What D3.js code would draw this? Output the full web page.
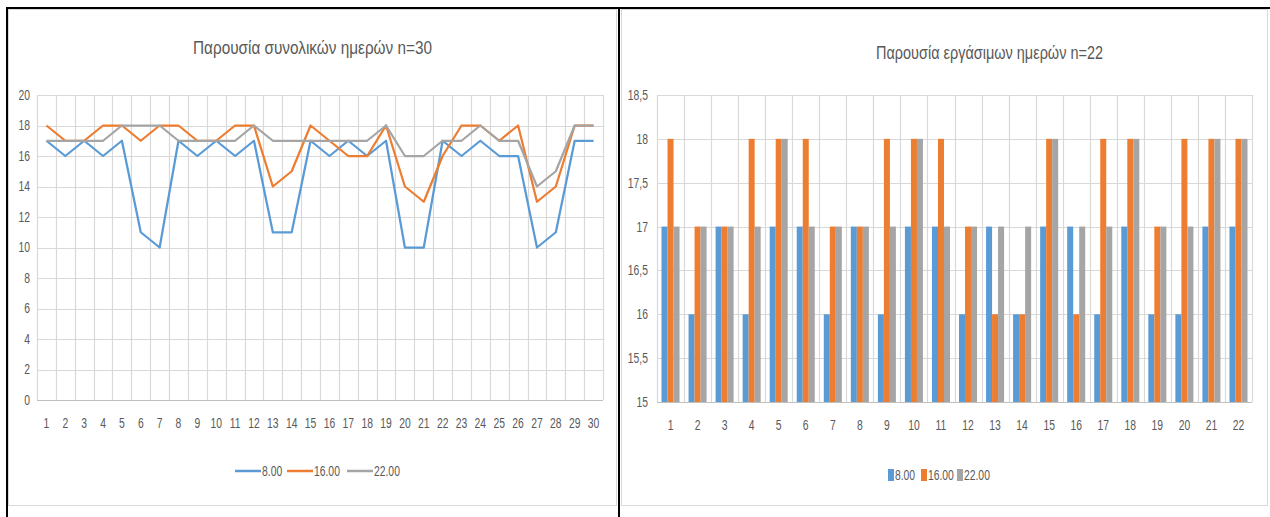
<!DOCTYPE html>
<html><head><meta charset="utf-8">
<script src="https://cdn.jsdelivr.net/npm/d3@7"></script>
<style>
html,body{margin:0;padding:0;background:#fff;}
svg{display:block;}
text{font-family:"Liberation Sans",Arial,sans-serif;}
</style></head><body>
<svg id="c" width="1270" height="517"></svg>
<script>
// ---- data ----
const seriesNames = ["8.00", "16.00", "22.00"];
const colors = ["#5B9BD5", "#ED7D31", "#A5A5A5"];

const leftTitle = "Παρουσία συνολικών ημερών n=30";
const leftDays = d3.range(1, 31).map(String);
const left800  = [17,16,17,16,17,11,10,17,16,17,16,17,11,11,17,16,17,16,17,10,10,17,16,17,16,16,10,11,17,17];
const left1600 = [18,17,17,18,18,17,18,18,17,17,18,18,14,15,18,17,16,16,18,14,13,16,18,18,17,18,13,14,18,18];
const left2200 = [17,17,17,17,18,18,18,17,17,17,17,18,17,17,17,17,17,17,18,16,16,17,17,18,17,17,14,15,18,18];
const leftTicks = [0,2,4,6,8,10,12,14,16,18,20];

const rightTitle = "Παρουσία εργάσιμων ημερών n=22";
const rightDays = d3.range(1, 23).map(String);
const right800  = [17,16,17,16,17,17,16,17,16,17,17,16,17,16,17,17,16,17,16,16,17,17];
const right1600 = [18,17,17,18,18,18,17,17,18,18,18,17,16,16,18,16,18,18,17,18,18,18];
const right2200 = [17,17,17,17,18,17,17,17,17,18,17,17,17,17,18,17,17,18,17,17,18,18];
const rightTicks = [15,15.5,16,16.5,17,17.5,18,18.5];

const svg = d3.select("#c");
const grid = "#D9D9D9", txt = "#595959";
const SX = 0.74, FS = 14;
function narrow(sel, s) {
  s = s || SX;
  sel.attr("transform", function(){
    const x = +this.getAttribute("x") || 0;
    return `translate(${x},0) scale(${s},1) translate(${-x},0)`;
  });
}

// ---- frames ----
svg.append("rect").attr("x",0).attr("y",0).attr("width",1270).attr("height",517).attr("fill","#fff");
svg.append("rect").attr("x",8.5).attr("y",9.5).attr("width",608).attr("height",496).attr("fill","none").attr("stroke","#D9D9D9");
svg.append("rect").attr("x",621.5).attr("y",9.5).attr("width",646).attr("height",496).attr("fill","none").attr("stroke","#D9D9D9");
svg.append("line").attr("x1",6).attr("x2",1270).attr("y1",8).attr("y2",8).attr("stroke","#000").attr("stroke-width",2);
svg.append("line").attr("x1",7).attr("x2",7).attr("y1",7).attr("y2",517).attr("stroke","#000").attr("stroke-width",2);
svg.append("line").attr("x1",619).attr("x2",619).attr("y1",7).attr("y2",517).attr("stroke","#000").attr("stroke-width",2);

// ---- LEFT: line chart ----
{
  const x = d3.scaleBand().domain(leftDays).range([37, 603]);
  const y = d3.scaleLinear().domain([0, 20]).range([400, 95]);
  const g = svg.append("g");
  g.append("text").attr("x",193).attr("y",54)
    .attr("font-size",19).attr("fill",txt).attr("textLength",239).attr("lengthAdjust","spacingAndGlyphs")
    .text(leftTitle);
  g.selectAll(".hg").data(leftTicks).join("line")
    .attr("x1",37).attr("x2",603).attr("y1",d=>Math.round(y(d))+0.5).attr("y2",d=>Math.round(y(d))+0.5)
    .attr("stroke",d=>d===0?"#BFBFBF":grid).attr("stroke-width",1.2);
  const edges = leftDays.map(d=>x(d)).concat([603]);
  g.selectAll(".vg").data(edges).join("line")
    .attr("x1",d=>Math.round(d)+0.5).attr("x2",d=>Math.round(d)+0.5).attr("y1",95).attr("y2",400)
    .attr("stroke",grid).attr("stroke-width",1.2);
  const ya = d3.axisLeft(y).tickValues(leftTicks).tickSize(0).tickPadding(0);
  const yg = g.append("g").attr("transform","translate(30,0)").call(ya);
  yg.select(".domain").remove();
  yg.selectAll("text").attr("font-size",FS).attr("fill",txt).attr("font-family",null).call(narrow);
  const xa = d3.axisBottom(x).tickSize(0).tickPadding(0);
  const xg = g.append("g").attr("transform","translate(0,418)").call(xa);
  xg.select(".domain").remove();
  xg.selectAll("text").attr("font-size",FS).attr("fill",txt).attr("font-family",null).call(narrow);
  const data = [left800, left1600, left2200];
  const line = d3.line().x((d,i)=>x(leftDays[i])+x.bandwidth()/2).y(d=>y(d));
  data.forEach((s,k)=>{
    g.append("path").datum(s).attr("d",line).attr("fill","none")
      .attr("stroke",colors[k]).attr("stroke-width",2.25).attr("stroke-linejoin","round");
  });
  const lx = [235, 287, 347];
  seriesNames.forEach((n,k)=>{
    g.append("line").attr("x1",lx[k]).attr("x2",lx[k]+26).attr("y1",471).attr("y2",471)
      .attr("stroke",colors[k]).attr("stroke-width",2.5);
    g.append("text").attr("x",lx[k]+27).attr("y",476).attr("font-size",FS).attr("fill",txt).text(n).call(narrow);
  });
}

// ---- RIGHT: grouped bar chart ----
{
  const x = d3.scaleBand().domain(rightDays).range([657, 1252]);
  const y = d3.scaleLinear().domain([15, 18.5]).range([402, 95]);
  const g = svg.append("g");
  g.append("text").attr("x",876).attr("y",59)
    .attr("font-size",19).attr("fill",txt).attr("textLength",227).attr("lengthAdjust","spacingAndGlyphs")
    .text(rightTitle);
  g.selectAll(".hg").data(rightTicks).join("line")
    .attr("x1",657).attr("x2",1252).attr("y1",d=>Math.round(y(d))+0.5).attr("y2",d=>Math.round(y(d))+0.5)
    .attr("stroke",d=>d===15?"#BFBFBF":grid).attr("stroke-width",1.2);
  const edges = rightDays.map(d=>x(d)).concat([1252]);
  g.selectAll(".vg").data(edges).join("line")
    .attr("x1",d=>Math.round(d)+0.5).attr("x2",d=>Math.round(d)+0.5).attr("y1",95).attr("y2",402)
    .attr("stroke",grid).attr("stroke-width",1.2);
  const fmt = d=>String(d).replace(".",",");
  const ya = d3.axisLeft(y).tickValues(rightTicks).tickFormat(fmt).tickSize(0).tickPadding(0);
  const yg = g.append("g").attr("transform","translate(648,0)").call(ya);
  yg.select(".domain").remove();
  yg.selectAll("text").attr("font-size",FS).attr("fill",txt).attr("font-family",null).call(narrow);
  const xa = d3.axisBottom(x).tickSize(0).tickPadding(0);
  const xg = g.append("g").attr("transform","translate(0,420)").call(xa);
  xg.select(".domain").remove();
  xg.selectAll("text").attr("font-size",FS).attr("fill",txt).attr("font-family",null).call(narrow);
  const data = [right800, right1600, right2200];
  const groupW = x.bandwidth()*2/3;
  const xs = d3.scaleBand().domain([0,1,2]).range([0, groupW]);
  data.forEach((s,k)=>{
    g.selectAll(".b"+k).data(s).join("rect")
      .attr("x",(d,i)=>x(rightDays[i]) + (x.bandwidth()-groupW)/2 + xs(k))
      .attr("width",xs.bandwidth())
      .attr("y",d=>y(d)).attr("height",d=>y(15)-y(d))
      .attr("fill",colors[k]);
  });
  const lx = [888, 921, 957];
  seriesNames.forEach((n,k)=>{
    g.append("rect").attr("x",lx[k]).attr("y",469).attr("width",6).attr("height",12).attr("fill",colors[k]);
    g.append("text").attr("x",lx[k]+7).attr("y",480).attr("font-size",FS).attr("fill",txt).text(n).call(narrow);
  });
}
</script></body></html>
